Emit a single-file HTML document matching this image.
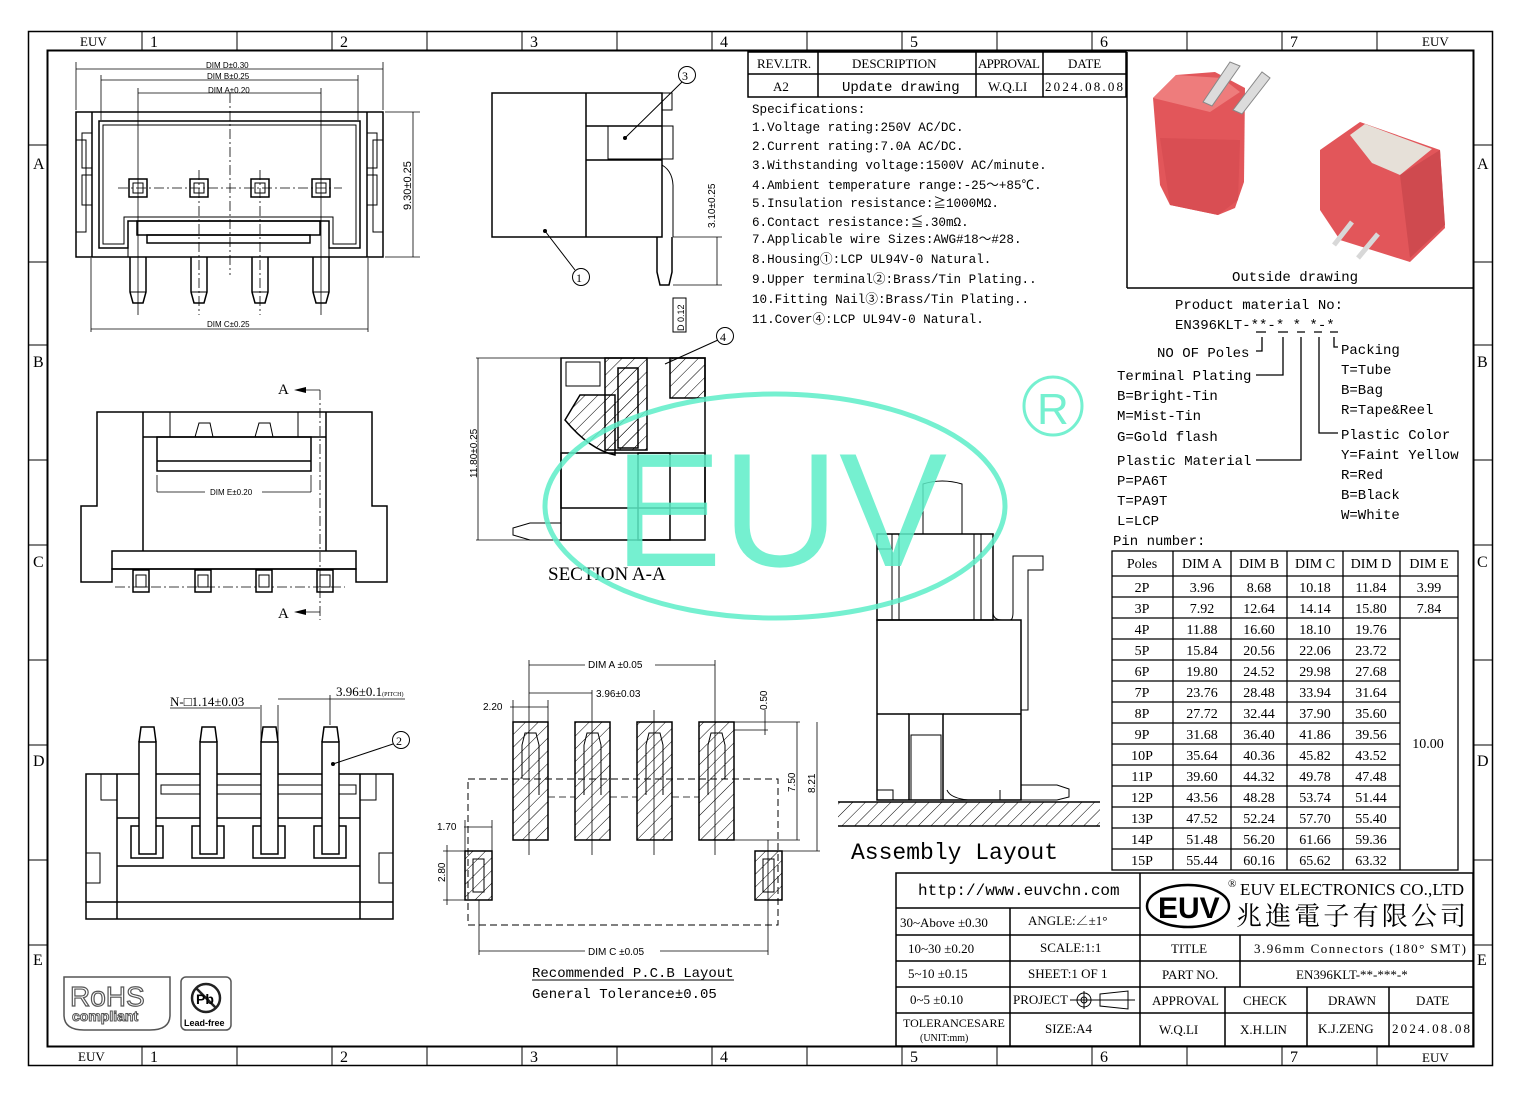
<!DOCTYPE html>
<html><head><meta charset="utf-8"><style>
html,body{margin:0;padding:0;background:#fff;}
svg{display:block;}
text{font-family:"Liberation Mono","Noto Sans CJK SC",monospace;fill:#000;}
.s,.s text{font-family:"Liberation Serif","Noto Serif CJK SC",serif;}
.a,.a text{font-family:"Liberation Sans",sans-serif;}
</style></head><body>
<svg width="1520" height="1096" viewBox="0 0 1520 1096" xmlns="http://www.w3.org/2000/svg">
<defs>
<pattern id="h" width="9" height="9" patternUnits="userSpaceOnUse" patternTransform="rotate(45)"><line x1="0" y1="0" x2="0" y2="9" stroke="#000" stroke-width="1"/></pattern>
</defs>
<rect width="1520" height="1096" fill="#fff"/>
<g fill="none" stroke="#000">
<rect x="28.5" y="31.5" width="1464" height="1034" stroke-width="1.5"/>
<rect x="47.5" y="50.5" width="1426" height="996" stroke-width="2"/>
<g stroke-width="1">
<line x1="142" y1="31" x2="142" y2="50"/><line x1="237" y1="31" x2="237" y2="50"/>
<line x1="332" y1="31" x2="332" y2="50"/><line x1="427" y1="31" x2="427" y2="50"/>
<line x1="522" y1="31" x2="522" y2="50"/><line x1="617" y1="31" x2="617" y2="50"/>
<line x1="712" y1="31" x2="712" y2="50"/><line x1="807" y1="31" x2="807" y2="50"/>
<line x1="902" y1="31" x2="902" y2="50"/><line x1="997" y1="31" x2="997" y2="50"/>
<line x1="1092" y1="31" x2="1092" y2="50"/><line x1="1187" y1="31" x2="1187" y2="50"/>
<line x1="1282" y1="31" x2="1282" y2="50"/><line x1="1377" y1="31" x2="1377" y2="50"/>
<line x1="142" y1="1046" x2="142" y2="1065"/><line x1="237" y1="1046" x2="237" y2="1065"/>
<line x1="332" y1="1046" x2="332" y2="1065"/><line x1="427" y1="1046" x2="427" y2="1065"/>
<line x1="522" y1="1046" x2="522" y2="1065"/><line x1="617" y1="1046" x2="617" y2="1065"/>
<line x1="712" y1="1046" x2="712" y2="1065"/><line x1="807" y1="1046" x2="807" y2="1065"/>
<line x1="902" y1="1046" x2="902" y2="1065"/><line x1="997" y1="1046" x2="997" y2="1065"/>
<line x1="1092" y1="1046" x2="1092" y2="1065"/><line x1="1187" y1="1046" x2="1187" y2="1065"/>
<line x1="1282" y1="1046" x2="1282" y2="1065"/><line x1="1377" y1="1046" x2="1377" y2="1065"/>
<line x1="28" y1="262" x2="47" y2="262"/><line x1="28" y1="460" x2="47" y2="460"/>
<line x1="28" y1="660" x2="47" y2="660"/><line x1="28" y1="860" x2="47" y2="860"/>
<line x1="28" y1="145" x2="47" y2="145"/><line x1="28" y1="345" x2="47" y2="345"/><line x1="28" y1="545" x2="47" y2="545"/><line x1="28" y1="745" x2="47" y2="745"/><line x1="28" y1="945" x2="47" y2="945"/>
<line x1="1473" y1="262" x2="1492" y2="262"/><line x1="1473" y1="460" x2="1492" y2="460"/>
<line x1="1473" y1="660" x2="1492" y2="660"/><line x1="1473" y1="860" x2="1492" y2="860"/>
<line x1="1473" y1="145" x2="1492" y2="145"/><line x1="1473" y1="345" x2="1492" y2="345"/><line x1="1473" y1="545" x2="1492" y2="545"/><line x1="1473" y1="745" x2="1492" y2="745"/><line x1="1473" y1="945" x2="1492" y2="945"/>
</g>
</g>
<g class="s" font-size="16">
<text x="80" y="46" font-size="13">EUV</text><text x="1422" y="46" font-size="13">EUV</text>
<text x="78" y="1061" font-size="13">EUV</text><text x="1422" y="1062" font-size="13">EUV</text>
<text x="150" y="47">1</text><text x="340" y="47">2</text><text x="530" y="47">3</text><text x="720" y="47">4</text><text x="910" y="47">5</text><text x="1100" y="47">6</text><text x="1290" y="47">7</text>
<text x="150" y="1062">1</text><text x="340" y="1062">2</text><text x="530" y="1062">3</text><text x="720" y="1062">4</text><text x="910" y="1062">5</text><text x="1100" y="1062">6</text><text x="1290" y="1062">7</text>
<text x="33" y="169">A</text><text x="33" y="367">B</text><text x="33" y="567">C</text><text x="33" y="766">D</text><text x="33" y="965">E</text>
<text x="1477" y="169">A</text><text x="1477" y="367">B</text><text x="1477" y="567">C</text><text x="1477" y="766">D</text><text x="1477" y="965">E</text>
</g>

<!-- TOP-LEFT FRONT VIEW -->
<g fill="none" stroke="#000" stroke-width="1.5">
<rect x="76" y="112" width="307" height="145"/>
<line x1="92" y1="112" x2="92" y2="257"/><line x1="367" y1="112" x2="367" y2="257"/>
<path d="M99 121 H360 V248 H329 V221 H128 V248 H99 Z"/>
<path d="M103 125 H356 V244 H333 V217 H124 V244 H103 Z" stroke-width="1"/>
<rect x="137" y="221" width="183" height="14"/>
<rect x="147" y="235" width="163" height="8"/>
<rect x="128" y="221" width="201" height="36" stroke-width="1"/>
<path d="M76 140 H86 V232 H76" stroke-width="1"/><path d="M383 140 H373 V232 H383" stroke-width="1"/>
<rect x="82" y="133" width="10" height="35" stroke-width="1"/><rect x="82" y="175" width="10" height="30" stroke-width="1"/>
<rect x="367" y="133" width="10" height="35" stroke-width="1"/><rect x="367" y="175" width="10" height="30" stroke-width="1"/>
<rect x="129" y="179" width="18" height="18"/><rect x="133" y="183" width="10" height="10" stroke-width="1"/>
<rect x="190" y="179" width="18" height="18"/><rect x="194" y="183" width="10" height="10" stroke-width="1"/>
<rect x="251" y="179" width="18" height="18"/><rect x="255" y="183" width="10" height="10" stroke-width="1"/>
<rect x="312" y="179" width="18" height="18"/><rect x="316" y="183" width="10" height="10" stroke-width="1"/>
<path d="M130 257 V292 L133 303 H143 L146 292 V257"/><line x1="130" y1="292" x2="146" y2="292" stroke-width="1"/>
<path d="M191 257 V292 L194 303 H204 L207 292 V257"/><line x1="191" y1="292" x2="207" y2="292" stroke-width="1"/>
<path d="M252 257 V292 L255 303 H265 L268 292 V257"/><line x1="252" y1="292" x2="268" y2="292" stroke-width="1"/>
<path d="M313 257 V292 L316 303 H326 L329 292 V257"/><line x1="313" y1="292" x2="329" y2="292" stroke-width="1"/>
</g>
<g stroke="#000" stroke-width="0.8" fill="none">
<line x1="76" y1="62" x2="76" y2="110"/><line x1="383" y1="62" x2="383" y2="110"/>
<line x1="76" y1="69" x2="383" y2="69"/>
<line x1="101" y1="75" x2="101" y2="120"/><line x1="358" y1="75" x2="358" y2="120"/>
<line x1="101" y1="80" x2="358" y2="80"/>
<line x1="138" y1="88" x2="138" y2="315"/><line x1="321" y1="88" x2="321" y2="315"/>
<line x1="199" y1="170" x2="199" y2="315" stroke-dasharray="10 3 2 3"/><line x1="260" y1="170" x2="260" y2="315" stroke-dasharray="10 3 2 3"/>
<line x1="138" y1="93" x2="321" y2="93"/>
<line x1="230" y1="93" x2="230" y2="275" stroke-dasharray="10 3 2 3"/>
<line x1="118" y1="188" x2="342" y2="188" stroke-dasharray="10 3 2 3"/>
<line x1="91" y1="258" x2="91" y2="332"/><line x1="368" y1="258" x2="368" y2="332"/>
<line x1="91" y1="329" x2="368" y2="329"/>
<line x1="385" y1="112" x2="420" y2="112"/><line x1="385" y1="257" x2="420" y2="257"/>
<line x1="413" y1="112" x2="413" y2="257"/>
</g>
<g class="a" font-size="8">
<text x="206" y="68">DIM D±0.30</text><text x="207" y="79">DIM B±0.25</text><text x="208" y="93">DIM A±0.20</text><text x="207" y="327">DIM C±0.25</text>
<text transform="translate(411,210) rotate(-90)" font-size="11">9.30±0.25</text>
</g>

<!-- TOP SIDE VIEW -->
<g fill="none" stroke="#000" stroke-width="1.5">
<rect x="492" y="93" width="170" height="144"/>
<line x1="586" y1="93" x2="586" y2="237"/>
<path d="M586 126 H662 M586 160 H662"/>
<rect x="608" y="126" width="65" height="33" stroke-width="1"/>
<path d="M662 93 H672 V110 H662" stroke-width="1"/>
<path d="M662 165 Q674 172 673 190 V237" stroke-width="1"/>
<path d="M657 237 V272 L660 285 H669 L672 272 V237"/>
<rect x="673" y="298" width="13" height="34" stroke-width="1"/>
<circle cx="687" cy="75" r="8.5" stroke-width="1"/><circle cx="581" cy="277" r="8.5" stroke-width="1"/>
<path d="M625 138 L682 82 M545 231 L575 270" stroke-width="1"/>
</g>
<g stroke="#000" stroke-width="0.8"><line x1="673" y1="237" x2="722" y2="237"/><line x1="673" y1="285" x2="722" y2="285"/><line x1="717" y1="237" x2="717" y2="285"/></g>
<circle cx="625" cy="138" r="2" fill="#000"/><circle cx="545" cy="231" r="2" fill="#000"/>
<text class="s" x="682" y="80" font-size="12">3</text><text class="s" x="576" y="282" font-size="12">1</text>
<text class="a" transform="translate(715,228) rotate(-90)" font-size="10">3.10±0.25</text>
<text class="a" transform="translate(684,331) rotate(-90)" font-size="9">D 0.12</text>

<!-- SECTION A-A -->
<g fill="none" stroke="#000" stroke-width="1.5">
<rect x="561" y="358" width="144" height="150"/>
<rect x="561" y="453" width="144" height="87"/>
<rect x="605" y="358" width="42" height="92" fill="url(#h)"/>
<rect x="618" y="368" width="20" height="80" fill="url(#h)"/>
<path d="M565 420 Q590 450 615 455 V395 H580 Z" fill="url(#h)"/>
<rect x="670" y="358" width="35" height="40" fill="url(#h)"/>
<rect x="566" y="362" width="34" height="24" stroke-width="1"/>
<rect x="638" y="453" width="32" height="87"/>
<path d="M530 523 H561 V540 H530 L513 535 V528 Z" stroke-width="1"/>
<circle cx="725" cy="336" r="8.5" stroke-width="1"/>
<path d="M665 364 L718 340" stroke-width="1"/>
</g>
<g stroke="#000" stroke-width="0.8"><line x1="476" y1="358" x2="561" y2="358"/><line x1="476" y1="540" x2="561" y2="540"/><line x1="478" y1="358" x2="478" y2="540"/></g>
<text class="s" x="720" y="341" font-size="12">4</text>
<text class="a" transform="translate(477,478) rotate(-90)" font-size="10">11.80±0.25</text>
<text class="s" x="548" y="580" font-size="19">SECTION  A-A</text>

<!-- MIDDLE-LEFT VIEW -->
<g fill="none" stroke="#000" stroke-width="1.5">
<path d="M97 412 H372 V506 H387 V582 H356 V569 H112 V582 H81 V506 H97 Z"/>
<line x1="143" y1="412" x2="143" y2="551"/><line x1="326" y1="412" x2="326" y2="551"/>
<line x1="143" y1="437" x2="326" y2="437"/>
<rect x="157" y="437" width="154" height="34"/><line x1="157" y1="461" x2="311" y2="461"/>
<line x1="170" y1="412" x2="170" y2="437" stroke-width="1"/><line x1="298" y1="412" x2="298" y2="437" stroke-width="1"/>
<path d="M195 437 L199 423 H210 L213 437 M255 437 L259 423 H270 L273 437" stroke-width="1"/>
<rect x="112" y="551" width="244" height="18"/>
<rect x="133" y="570" width="16" height="22"/><rect x="136" y="575" width="10" height="12" stroke-width="1"/>
<rect x="195" y="570" width="16" height="22"/><rect x="198" y="575" width="10" height="12" stroke-width="1"/>
<rect x="256" y="570" width="16" height="22"/><rect x="259" y="575" width="10" height="12" stroke-width="1"/>
<rect x="317" y="570" width="16" height="22"/><rect x="320" y="575" width="10" height="12" stroke-width="1"/>
</g>
<g stroke="#000" stroke-width="0.8" fill="none">
<path d="M320 390 H296" /><path d="M320 390 V620" stroke-dasharray="10 3 2 3"/><path d="M320 612 H296"/>
<line x1="157" y1="475" x2="157" y2="492"/><line x1="311" y1="475" x2="311" y2="492"/>
<line x1="157" y1="492" x2="205" y2="492"/><line x1="262" y1="492" x2="311" y2="492"/>
<line x1="115" y1="587" x2="345" y2="587" stroke-dasharray="10 3 2 3"/>
</g>
<path d="M294 390 L306 387 V393 Z M294 612 L306 609 V615 Z" fill="#000"/>
<text class="s" x="278" y="394" font-size="15">A</text><text class="s" x="278" y="618" font-size="15">A</text>
<text class="a" x="210" y="495" font-size="8">DIM E±0.20</text>

<!-- BOTTOM-LEFT VIEW -->
<g fill="none" stroke="#000" stroke-width="1.5">
<rect x="86" y="774" width="307" height="145"/>
<path d="M117 919 V774 M360 919 V774"/>
<rect x="101" y="774" width="16" height="26" stroke-width="1"/><rect x="360" y="774" width="16" height="26" stroke-width="1"/>
<line x1="117" y1="818" x2="360" y2="818"/><line x1="117" y1="866" x2="360" y2="866"/><line x1="86" y1="902" x2="393" y2="902"/>
<rect x="161" y="785" width="195" height="9" stroke-width="1"/>
<rect x="131" y="826" width="32" height="32"/><rect x="192" y="826" width="32" height="32"/>
<rect x="253" y="826" width="32" height="32"/><rect x="314" y="826" width="32" height="32"/>
<rect x="139" y="742" width="17" height="112" fill="#fff"/><path d="M139 742 L141 727 H154 L156 742" />
<rect x="200" y="742" width="17" height="112" fill="#fff"/><path d="M200 742 L202 727 H215 L217 742" />
<rect x="261" y="742" width="17" height="112" fill="#fff"/><path d="M261 742 L263 727 H276 L278 742" />
<rect x="322" y="742" width="17" height="112" fill="#fff"/><path d="M322 742 L324 727 H337 L339 742" />
<rect x="86" y="853" width="14" height="30" stroke-width="1"/><rect x="379" y="853" width="14" height="30" stroke-width="1"/>
<circle cx="401" cy="740" r="8.5" stroke-width="1"/><path d="M333 764 L393 744" stroke-width="1"/>
</g>
<g stroke="#000" stroke-width="0.8"><line x1="170" y1="708" x2="260" y2="708"/><line x1="261" y1="705" x2="261" y2="740"/><line x1="278" y1="705" x2="278" y2="740"/><line x1="278" y1="699" x2="330" y2="699"/><line x1="330" y1="695" x2="330" y2="725"/><line x1="330" y1="699" x2="405" y2="699"/></g>
<circle cx="333" cy="764" r="2" fill="#000"/>
<text class="s" x="396" y="745" font-size="12">2</text>
<text class="s" x="170" y="706" font-size="13">N-□1.14±0.03</text>
<text class="s" x="336" y="696" font-size="13">3.96±0.1<tspan font-size="6">(PITCH)</tspan></text>

<!-- PCB LAYOUT -->
<g fill="none" stroke="#000" stroke-width="1.5">
<rect x="468" y="779" width="310" height="146" stroke-dasharray="7 4" stroke-width="1"/>
<rect x="513" y="722" width="35" height="118" fill="url(#h)"/>
<rect x="575" y="722" width="35" height="118" fill="url(#h)"/>
<rect x="637" y="722" width="35" height="118" fill="url(#h)"/>
<rect x="699" y="722" width="35" height="118" fill="url(#h)"/>
<rect x="465" y="851" width="27" height="49" fill="url(#h)"/>
<rect x="755" y="851" width="27" height="49" fill="url(#h)"/>
<rect x="473" y="859" width="11" height="33" stroke-width="1"/><rect x="763" y="859" width="11" height="33" stroke-width="1"/>
<path d="M522 779 V745 L525 733 H536 L539 745 V795" stroke-width="1"/>
<path d="M584 795 V745 L587 733 H598 L601 745 V795" stroke-width="1"/>
<path d="M646 795 V745 L649 733 H660 L663 745 V795" stroke-width="1"/>
<path d="M708 795 V745 L711 733 H722 L725 745 V779" stroke-width="1"/>
</g>
<g stroke="#000" stroke-width="0.8" fill="none">
<line x1="529" y1="660" x2="529" y2="855"/><line x1="715" y1="660" x2="715" y2="855"/>
<line x1="529" y1="665" x2="585" y2="665"/><line x1="655" y1="665" x2="715" y2="665"/>
<line x1="592" y1="690" x2="592" y2="855"/><line x1="654" y1="710" x2="654" y2="855"/>
<line x1="529" y1="693" x2="592" y2="693"/>
<line x1="510" y1="707" x2="548" y2="707"/><line x1="548" y1="700" x2="548" y2="722"/><line x1="513" y1="700" x2="513" y2="722"/>
<line x1="734" y1="722" x2="800" y2="722"/><line x1="734" y1="730" x2="768" y2="730"/><line x1="765" y1="710" x2="765" y2="735"/>
<line x1="734" y1="840" x2="800" y2="840"/><line x1="797" y1="722" x2="797" y2="840"/>
<line x1="782" y1="851" x2="820" y2="851"/><line x1="817" y1="722" x2="817" y2="851"/>
<line x1="479" y1="900" x2="479" y2="955"/><line x1="768" y1="840" x2="768" y2="955"/>
<line x1="479" y1="951" x2="585" y2="951"/><line x1="660" y1="951" x2="768" y2="951"/>
<line x1="464" y1="827" x2="492" y2="827"/><line x1="465" y1="820" x2="465" y2="851"/><line x1="492" y1="820" x2="492" y2="851"/>
<line x1="443" y1="851" x2="465" y2="851"/><line x1="443" y1="900" x2="465" y2="900"/><line x1="447" y1="845" x2="447" y2="905"/>
<line x1="548" y1="797" x2="575" y2="797" stroke-dasharray="7 4"/><line x1="610" y1="797" x2="637" y2="797" stroke-dasharray="7 4"/><line x1="672" y1="797" x2="699" y2="797" stroke-dasharray="7 4"/>
</g>
<g class="a" font-size="10">
<text x="588" y="668">DIM A ±0.05</text><text x="596" y="697">3.96±0.03</text>
<text x="483" y="710">2.20</text><text x="437" y="830">1.70</text>
<text transform="translate(445,882) rotate(-90)">2.80</text>
<text transform="translate(767,710) rotate(-90)">0.50</text>
<text transform="translate(795,792) rotate(-90)">7.50</text>
<text transform="translate(815,793) rotate(-90)">8.21</text>
<text x="588" y="955">DIM C ±0.05</text>
</g>
<text x="532" y="977" font-size="14">Recommended P.C.B Layout</text>
<line x1="532" y1="980" x2="734" y2="980" stroke="#000" stroke-width="1"/>
<text x="532" y="998" font-size="14">General Tolerance±0.05</text>

<!-- ASSEMBLY LAYOUT -->
<g fill="none" stroke="#000" stroke-width="1.5">
<path d="M923 534 V484 Q942 478 962 484 V534" stroke-width="1"/>
<rect x="877" y="534" width="116" height="86"/>
<rect x="877" y="534" width="15" height="15" stroke-width="1"/>
<line x1="892" y1="534" x2="892" y2="620" stroke-width="1"/><line x1="899" y1="534" x2="899" y2="620" stroke-width="1"/>
<line x1="974" y1="534" x2="974" y2="620" stroke-width="1"/><line x1="981" y1="534" x2="981" y2="620" stroke-width="1"/>
<path d="M993 534 V612 Q993 620 1002 620 H1010 Q1013 620 1013 612 V556 H1043 V570 H1028 V710 H1021" stroke-width="1"/>
<rect x="877" y="620" width="144" height="180"/>
<line x1="877" y1="714" x2="909" y2="714"/><line x1="943" y1="714" x2="1021" y2="714"/>
<path d="M909 800 V714 H943 V800"/>
<rect x="911" y="735" width="30" height="65" stroke-width="1"/>
<path d="M1021 785 H1057 L1069 789 V797 L1057 800 H1021" stroke-width="1"/>
<path d="M877 790 H893 V800 M947 790 Q950 798 968 800 M1000 790 V800" stroke-width="1"/>
<line x1="838" y1="802" x2="1100" y2="802"/><line x1="838" y1="826" x2="1100" y2="826"/>
<rect x="838" y="802" width="262" height="24" fill="url(#h)" stroke="none"/>
</g>
<text x="851" y="859" font-size="23">Assembly Layout</text>

<!-- REV TABLE & SPECS -->
<g fill="none" stroke="#000" stroke-width="1.5">
<rect x="748" y="52" width="378" height="45"/>
<line x1="748" y1="74" x2="1126" y2="74"/>
<line x1="818" y1="52" x2="818" y2="97"/><line x1="976" y1="52" x2="976" y2="97"/><line x1="1043" y1="52" x2="1043" y2="97"/>
<line x1="1127" y1="52" x2="1127" y2="288"/><line x1="1127" y1="288" x2="1473" y2="288"/>
</g>
<g class="s" font-size="13">
<text x="757" y="68">REV.LTR.</text><text x="852" y="68">DESCRIPTION</text><text x="978" y="68" textLength="62">APPROVAL</text><text x="1068" y="68">DATE</text>
<text x="773" y="91">A2</text><text x="988" y="91">W.Q.LI</text><text x="1045" y="91" textLength="78">2024.08.08</text>
</g>
<text x="842" y="91" font-size="14">Update drawing</text>
<g font-size="12.6">
<text x="752" y="113">Specifications:</text>
<text x="752" y="131">1.Voltage rating:250V AC/DC.</text>
<text x="752" y="150">2.Current rating:7.0A AC/DC.</text>
<text x="752" y="169">3.Withstanding voltage:1500V AC/minute.</text>
<text x="752" y="189">4.Ambient temperature range:-25～+85℃.</text>
<text x="752" y="207">5.Insulation resistance:≧1000MΩ.</text>
<text x="752" y="226">6.Contact resistance:≦.30mΩ.</text>
<text x="752" y="243">7.Applicable wire Sizes:AWG#18～#28.</text>
<text x="752" y="263">8.Housing①:LCP UL94V-0 Natural.</text>
<text x="752" y="283">9.Upper terminal②:Brass/Tin Plating..</text>
<text x="752" y="303">10.Fitting Nail③:Brass/Tin Plating..</text>
<text x="752" y="323">11.Cover④:LCP UL94V-0 Natural.</text>
</g>

<!-- PHOTOS -->
<g>
<path d="M1153 98 L1176 75 L1215 72 L1245 88 L1244 182 L1235 208 L1218 215 L1170 205 L1160 185 Z" fill="#e2565a"/>
<path d="M1153 98 L1176 75 L1222 78 L1240 92 L1210 112 Z" fill="#ee7c7c"/>
<path d="M1160 138 L1240 140 L1238 200 L1218 215 L1170 205 Z" fill="#d94e53"/>
<path d="M1203 102 L1230 62 L1240 66 L1212 106 Z M1233 110 L1262 72 L1270 78 L1242 114 Z" fill="#dcdcdc" stroke="#888" stroke-width="1"/>
<path d="M1320 150 L1360 122 L1440 150 L1445 228 L1410 262 L1340 240 L1320 210 Z" fill="#e2565a"/>
<path d="M1350 135 L1365 124 L1432 149 L1400 175 L1372 163 Z" fill="#e6e0d8"/>
<path d="M1400 175 L1440 150 L1445 225 L1410 258 Z" fill="#cf4a4f"/>
<path d="M1334 245 L1352 222 M1358 258 L1378 234" stroke="#d8d8d8" stroke-width="5"/>
</g>
<text x="1232" y="281" font-size="14">Outside drawing</text>

<!-- PRODUCT NUMBER -->
<g font-size="14">
<text x="1175" y="309">Product material No:</text>
<text x="1175" y="329">EN396KLT-**-* * *-*</text>
<text x="1157" y="357">NO OF Poles</text>
<text x="1117" y="380">Terminal Plating</text>
<text x="1117" y="400">B=Bright-Tin</text>
<text x="1117" y="420">M=Mist-Tin</text>
<text x="1117" y="441">G=Gold flash</text>
<text x="1117" y="465">Plastic Material</text>
<text x="1117" y="485">P=PA6T</text>
<text x="1117" y="505">T=PA9T</text>
<text x="1117" y="525">L=LCP</text>
<text x="1113" y="545">Pin number:</text>
<text x="1341" y="354">Packing</text>
<text x="1341" y="374">T=Tube</text>
<text x="1341" y="394">B=Bag</text>
<text x="1341" y="414">R=Tape&amp;Reel</text>
<text x="1341" y="439">Plastic Color</text>
<text x="1341" y="459">Y=Faint Yellow</text>
<text x="1341" y="479">R=Red</text>
<text x="1341" y="499">B=Black</text>
<text x="1341" y="519">W=White</text>
</g>
<g fill="none" stroke="#000" stroke-width="1.3">
<path d="M1256 332 H1266 M1278 332 H1288 M1297 332 H1305 M1314 332 H1322 M1330 332 H1338"/>
<path d="M1262 337 V351 H1256"/>
<path d="M1283 337 V375 H1256"/>
<path d="M1301 337 V460 H1256"/>
<path d="M1319 337 V433 H1338"/>
<path d="M1334 337 V347 H1338"/>
</g>

<!-- PIN TABLE -->
<g fill="none" stroke="#000" stroke-width="1.3">
<rect x="1112" y="551" width="346" height="319"/>
<line x1="1112" y1="576" x2="1458" y2="576"/>
<line x1="1173" y1="551" x2="1173" y2="870"/><line x1="1231" y1="551" x2="1231" y2="870"/>
<line x1="1287" y1="551" x2="1287" y2="870"/><line x1="1343" y1="551" x2="1343" y2="870"/>
<line x1="1400" y1="551" x2="1400" y2="870"/>
<path d="M1112 597 H1458 M1112 618 H1458 M1112 639 H1400 M1112 660 H1400 M1112 681 H1400 M1112 702 H1400 M1112 723 H1400 M1112 744 H1400 M1112 765 H1400 M1112 786 H1400 M1112 807 H1400 M1112 828 H1400 M1112 849 H1400"/>
</g>
<g class="s" font-size="14" text-anchor="middle">
<text x="1142" y="568">Poles</text><text x="1202" y="568">DIM A</text><text x="1259" y="568">DIM B</text><text x="1315" y="568">DIM C</text><text x="1371" y="568">DIM D</text><text x="1429" y="568">DIM E</text>
<text x="1142" y="592">2P</text><text x="1202" y="592">3.96</text><text x="1259" y="592">8.68</text><text x="1315" y="592">10.18</text><text x="1371" y="592">11.84</text><text x="1429" y="592">3.99</text>
<text x="1142" y="613">3P</text><text x="1202" y="613">7.92</text><text x="1259" y="613">12.64</text><text x="1315" y="613">14.14</text><text x="1371" y="613">15.80</text><text x="1429" y="613">7.84</text>
<text x="1142" y="634">4P</text><text x="1202" y="634">11.88</text><text x="1259" y="634">16.60</text><text x="1315" y="634">18.10</text><text x="1371" y="634">19.76</text>
<text x="1142" y="655">5P</text><text x="1202" y="655">15.84</text><text x="1259" y="655">20.56</text><text x="1315" y="655">22.06</text><text x="1371" y="655">23.72</text>
<text x="1142" y="676">6P</text><text x="1202" y="676">19.80</text><text x="1259" y="676">24.52</text><text x="1315" y="676">29.98</text><text x="1371" y="676">27.68</text>
<text x="1142" y="697">7P</text><text x="1202" y="697">23.76</text><text x="1259" y="697">28.48</text><text x="1315" y="697">33.94</text><text x="1371" y="697">31.64</text>
<text x="1142" y="718">8P</text><text x="1202" y="718">27.72</text><text x="1259" y="718">32.44</text><text x="1315" y="718">37.90</text><text x="1371" y="718">35.60</text>
<text x="1142" y="739">9P</text><text x="1202" y="739">31.68</text><text x="1259" y="739">36.40</text><text x="1315" y="739">41.86</text><text x="1371" y="739">39.56</text>
<text x="1142" y="760">10P</text><text x="1202" y="760">35.64</text><text x="1259" y="760">40.36</text><text x="1315" y="760">45.82</text><text x="1371" y="760">43.52</text>
<text x="1142" y="781">11P</text><text x="1202" y="781">39.60</text><text x="1259" y="781">44.32</text><text x="1315" y="781">49.78</text><text x="1371" y="781">47.48</text>
<text x="1142" y="802">12P</text><text x="1202" y="802">43.56</text><text x="1259" y="802">48.28</text><text x="1315" y="802">53.74</text><text x="1371" y="802">51.44</text>
<text x="1142" y="823">13P</text><text x="1202" y="823">47.52</text><text x="1259" y="823">52.24</text><text x="1315" y="823">57.70</text><text x="1371" y="823">55.40</text>
<text x="1142" y="844">14P</text><text x="1202" y="844">51.48</text><text x="1259" y="844">56.20</text><text x="1315" y="844">61.66</text><text x="1371" y="844">59.36</text>
<text x="1142" y="865">15P</text><text x="1202" y="865">55.44</text><text x="1259" y="865">60.16</text><text x="1315" y="865">65.62</text><text x="1371" y="865">63.32</text>
<text x="1428" y="748">10.00</text>
</g>

<!-- TITLE BLOCK -->
<g fill="none" stroke="#000" stroke-width="1.5">
<rect x="896" y="873" width="577" height="173"/>
<line x1="896" y1="908" x2="1140" y2="908"/>
<line x1="896" y1="935" x2="1473" y2="935"/><line x1="896" y1="961" x2="1473" y2="961"/>
<line x1="896" y1="987" x2="1473" y2="987"/><line x1="896" y1="1013" x2="1473" y2="1013"/>
<line x1="1010" y1="908" x2="1010" y2="1046"/><line x1="1140" y1="873" x2="1140" y2="1046"/>
<line x1="1240" y1="935" x2="1240" y2="987"/>
<line x1="1225" y1="987" x2="1225" y2="1046"/><line x1="1307" y1="987" x2="1307" y2="1046"/><line x1="1389" y1="987" x2="1389" y2="1046"/>
<ellipse cx="1188" cy="906" rx="41" ry="21" stroke-width="2.5"/>
<circle cx="1084" cy="1000" r="7" stroke-width="1"/><circle cx="1084" cy="1000" r="3" stroke-width="1"/>
<path d="M1070 1000 H1098 M1084 991 V1009" stroke-width="1"/>
<path d="M1100 994 L1128 991 V1009 L1100 1006 Z M1098 1000 H1135" stroke-width="1"/>
</g>
<text x="918" y="895" font-size="16">http://www.euvchn.com</text>
<g class="s" font-size="13">
<text x="900" y="927">30~Above ±0.30</text>
<text x="1028" y="925">ANGLE:∠±1°</text>
<text x="908" y="953">10~30   ±0.20</text>
<text x="1040" y="952">SCALE:1:1</text>
<text x="1171" y="953">TITLE</text>
<text x="1254" y="953" textLength="212">3.96mm Connectors (180° SMT)</text>
<text x="908" y="978">5~10    ±0.15</text>
<text x="1028" y="978">SHEET:1 OF 1</text>
<text x="1162" y="979">PART NO.</text>
<text x="1296" y="979">EN396KLT-**-***-*</text>
<text x="910" y="1004">0~5     ±0.10</text>
<text x="1013" y="1004">PROJECT</text>
<text x="1152" y="1005">APPROVAL</text>
<text x="1243" y="1005">CHECK</text>
<text x="1328" y="1005">DRAWN</text>
<text x="1416" y="1005">DATE</text>
<text x="903" y="1027" font-size="12">TOLERANCESARE</text>
<text x="920" y="1041" font-size="10">(UNIT:mm)</text>
<text x="1045" y="1033">SIZE:A4</text>
<text x="1159" y="1034">W.Q.LI</text>
<text x="1240" y="1034">X.H.LIN</text>
<text x="1318" y="1033">K.J.ZENG</text>
<text x="1392" y="1033" textLength="78">2024.08.08</text>
<text x="1240" y="895" font-size="17" textLength="224">EUV ELECTRONICS CO.,LTD</text>
<text x="1236" y="925" font-size="26" textLength="230">兆進電子有限公司</text>
<text x="1228" y="887" font-size="11">®</text>
</g>
<text class="a" x="1158" y="918" font-size="30" font-weight="bold">EUV</text>

<!-- LOGOS -->
<g fill="none" stroke="#555" stroke-width="1.5">
<path d="M64 977 H170 V1015 Q170 1030 150 1030 H84 Q64 1030 64 1015 Z"/>
<rect x="181" y="977" width="50" height="53" rx="5"/>
<circle cx="206" cy="998" r="14" stroke="#222" stroke-width="2.5"/>
<line x1="196" y1="988" x2="216" y2="1008" stroke="#222" stroke-width="2.5"/>
</g>
<text class="a" x="70" y="1006" font-size="28" fill="#fff" stroke="#555" stroke-width="1.2" style="fill:#fff">RoHS</text>
<text class="a" x="72" y="1021" font-size="14" font-weight="bold" stroke="#555" stroke-width="1" style="fill:#fff">compliant</text>
<text class="a" x="196" y="1004" font-size="14" font-weight="bold">Pb</text>
<text class="a" x="184" y="1026" font-size="9" font-weight="bold">Lead-free</text>

<!-- WATERMARK -->
<g opacity="0.85">
<ellipse cx="775" cy="506" rx="230" ry="112" fill="none" stroke="#5eeec8" stroke-width="5"/>
<text class="a" x="614" y="566" font-size="162" style="fill:#5eeec8">EUV</text>
<circle cx="1053" cy="406" r="29" fill="none" stroke="#5eeec8" stroke-width="3"/>
<text class="a" x="1037" y="424" font-size="44" style="fill:#5eeec8">R</text>
</g>
</svg>
</body></html>
